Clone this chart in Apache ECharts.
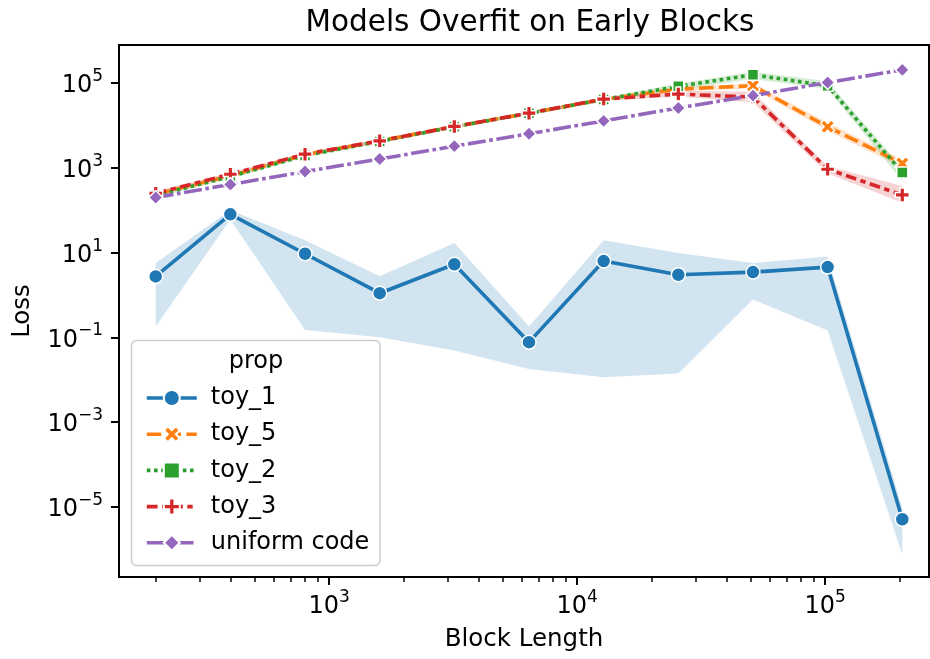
<!DOCTYPE html>
<html>
<head>
<meta charset="utf-8">
<script src="https://cdn.jsdelivr.net/npm/echarts@6/dist/echarts.min.js"></script>
<style>
  html, body { margin: 0; padding: 0; background: #fff; }
  #chart { width: 930px; height: 659px; }
</style>
</head>
<body>
<div id="chart"></div>
<script>
// data (raw values, log axes are done by log10 below)
var blockLength = [200, 400, 800, 1600, 3200, 6400, 12800, 25600, 51200, 102400, 204800];

var toy1   = [2.74, 80, 9.4, 1.10, 5.3, 0.077, 6.3, 3.0, 3.46, 4.54, 5.1e-6];
var toy1Lo = [0.18, 60, 0.15, 0.10, 0.049, 0.018, 0.0115, 0.014, 0.78, 0.145, 7.6e-7];
var toy1Hi = [5.65, 100, 19.5, 2.75, 16.8, 0.18, 19.5, 9.8, 5.65, 8.1, 9.5e-6];

var toy5   = [240, 650, 2050, 4300, 9400, 19300, 41500, 72000, 86300, 9270, 1265];
var toy5Lo = [215, 590, 1850, 3900, 8600, 17800, 38000, 64000, 74000, 7400, 1000];
var toy5Hi = [265, 720, 2300, 4750, 10300, 21000, 45500, 80000, 98000, 11700, 1600];

var toy2   = [225, 620, 1950, 4200, 9300, 19400, 41000, 83600, 157000, 86300, 775];
var toy2Lo = [200, 560, 1750, 3800, 8500, 17700, 37000, 69000, 124000, 72000, 490];
var toy2Hi = [250, 690, 2150, 4650, 10200, 21200, 45000, 98000, 185000, 110000, 1000];

var toy3   = [250, 706, 2100, 4330, 9470, 19500, 41900, 55000, 46700, 927, 229];
var toy3Lo = [225, 640, 1900, 3950, 8700, 17900, 38500, 48000, 35000, 730, 150];
var toy3Hi = [280, 780, 2300, 4750, 10300, 21300, 45500, 66000, 62000, 1110, 370];

var uniformCode = [200, 405, 815, 1610, 3250, 6350, 12800, 25900, 50500, 103000, 205000];

var xTicks = [3, 4, 5];
var yTicks = [-5, -3, -1, 1, 3, 5];

var FONT = 'DejaVu Sans';
var xMin = 2.153, xMax = 5.419;
var yMin = -6.655, yMax = 5.898;

function lg(v) { return Math.log10(v); }
function pts(arr) {
    return arr.map(function (v, i) { return [lg(blockLength[i]), lg(v)]; });
}

// minor ticks of the log x axis (2..9 x 10^n)
var minorTicks = [];
for (var n = 2; n <= 5; n++) {
    for (var k = 2; k <= 9; k++) {
        var t = lg(k * Math.pow(10, n));
        if (t > xMin && t < xMax) minorTicks.push(t);
    }
}

// filled plus / filled x, same outlines as matplotlib 'P' and 'X'
var plusPath = 'path://M-1,-3L1,-3L1,-1L3,-1L3,1L1,1L1,3L-1,3L-1,1L-3,1L-3,-1L-1,-1Z';
var xPath = 'path://M-1,-2L0,-1L1,-2L2,-1L1,0L2,1L1,2L0,1L-1,2L-2,1L-1,0L-2,-1Z';
var LW = 3.6;

function powLabel(v) {
    var e = Math.round(v);
    var s = e < 0 ? '\u2212' + Math.abs(e) : '' + e;
    return '{b|10}{s|' + s + '}';
}
var powRich = {
    b: { fontSize: 24, fontFamily: FONT, color: '#000', lineHeight: 30, verticalAlign: 'bottom' },
    s: { fontSize: 17, fontFamily: FONT, color: '#000', lineHeight: 17, verticalAlign: 'top' }
};

// confidence band drawn as one polygon through the axes' own coordinates
function band(name, lo, hi, color) {
    return {
        name: name + ' band', type: 'custom', z: 1, silent: true, clip: true,
        data: [[lg(blockLength[0]), lg(lo[0])]],
        renderItem: function (params, api) {
            var p = [];
            for (var i = 0; i < blockLength.length; i++) p.push(api.coord([lg(blockLength[i]), lg(hi[i])]));
            for (var j = blockLength.length - 1; j >= 0; j--) p.push(api.coord([lg(blockLength[j]), lg(lo[j])]));
            return { type: 'polygon', shape: { points: p }, style: { fill: color, opacity: 0.2 } };
        }
    };
}

function line(name, arr, color, dash, symbol, size) {
    return {
        name: name, type: 'line', data: pts(arr), z: 3,
        symbol: symbol, symbolSize: size, showAllSymbol: true,
        lineStyle: { color: color, width: LW, type: dash },
        itemStyle: { color: color, borderColor: '#fff', borderWidth: 1.5 }
    };
}

var series = [
    band('toy_1', toy1Lo, toy1Hi, '#1f77b4'),
    band('toy_5', toy5Lo, toy5Hi, '#ff7f0e'),
    band('toy_2', toy2Lo, toy2Hi, '#2ca02c'),
    band('toy_3', toy3Lo, toy3Hi, '#d62728'),
    line('toy_1', toy1, '#1f77b4', 'solid', 'circle', 14),
    line('toy_5', toy5, '#ff7f0e', [4 * LW, 1.5 * LW], xPath, 14),
    line('toy_2', toy2, '#2ca02c', [LW, LW], 'rect', 11),
    line('toy_3', toy3, '#d62728', [3 * LW, 1.25 * LW, 1.5 * LW, 1.25 * LW], plusPath, 14),
    line('uniform code', uniformCode, '#9467bd', [5 * LW, LW, LW, LW], 'diamond', 14)
];

var myChart = echarts.init(document.getElementById('chart'));
var option = {
    animation: false,
    title: {
        text: 'Models Overfit on Early Blocks',
        left: 525, top: 3, textAlign: 'center',
        textStyle: { fontFamily: FONT, fontSize: 29.5, fontWeight: 'normal', color: '#000' }
    },
    grid: {
        left: 119, right: 1, top: 45, bottom: 82,
        show: true, borderColor: '#000', borderWidth: 2, backgroundColor: '#fff'
    },
    legend: {
        orient: 'vertical', left: 140, top: 381, z: 20,
        data: ['toy_1', 'toy_5', 'toy_2', 'toy_3', 'uniform code'],
        itemWidth: 50, itemHeight: 20, itemGap: 12.2,
        lineStyle: { width: LW },
        textStyle: { fontFamily: FONT, fontSize: 24, lineHeight: 24, color: '#000', padding: [0, 0, 0, 9] }
    },
    graphic: [{
        type: 'rect', z: 15,
        shape: { x: 131.5, y: 340.5, width: 248.5, height: 225, r: 5 },
        style: { fill: 'rgba(255,255,255,0.8)', stroke: '#cccccc', lineWidth: 1.5 }
    }, {
        type: 'text', z: 16, x: 256, y: 362,
        style: { text: 'prop', fontFamily: FONT, fontSize: 24, fill: '#000', align: 'center', verticalAlign: 'middle' }
    }],
    xAxis: [{
        type: 'value', min: xMin, max: xMax, position: 'bottom',
        name: 'Block Length', nameLocation: 'middle', nameGap: 50,
        nameTextStyle: { fontFamily: FONT, fontSize: 24.5, color: '#000' },
        axisLine: { show: false, onZero: false },
        splitLine: { show: false },
        axisTick: { show: true, customValues: xTicks, length: 8, lineStyle: { color: '#000', width: 2 } },
        axisLabel: { customValues: xTicks, formatter: powLabel, rich: powRich, margin: 12 }
    }, {
        type: 'value', min: xMin, max: xMax, position: 'bottom',
        axisLine: { show: false, onZero: false },
        splitLine: { show: false },
        axisTick: { show: true, customValues: minorTicks, length: 5, lineStyle: { color: '#000', width: 1.5 } },
        axisLabel: { show: false }
    }],
    yAxis: {
        type: 'value', min: yMin, max: yMax,
        name: 'Loss', nameLocation: 'middle', nameGap: 84, nameRotate: 90,
        nameTextStyle: { fontFamily: FONT, fontSize: 24.5, color: '#000' },
        axisLine: { show: false, onZero: false },
        splitLine: { show: false },
        axisTick: { show: true, customValues: yTicks, length: 8, lineStyle: { color: '#000', width: 2 } },
        axisLabel: { customValues: yTicks, formatter: powLabel, rich: powRich, margin: 16 }
    },
    series: series
};
myChart.setOption(option);
</script>
</body>
</html>
